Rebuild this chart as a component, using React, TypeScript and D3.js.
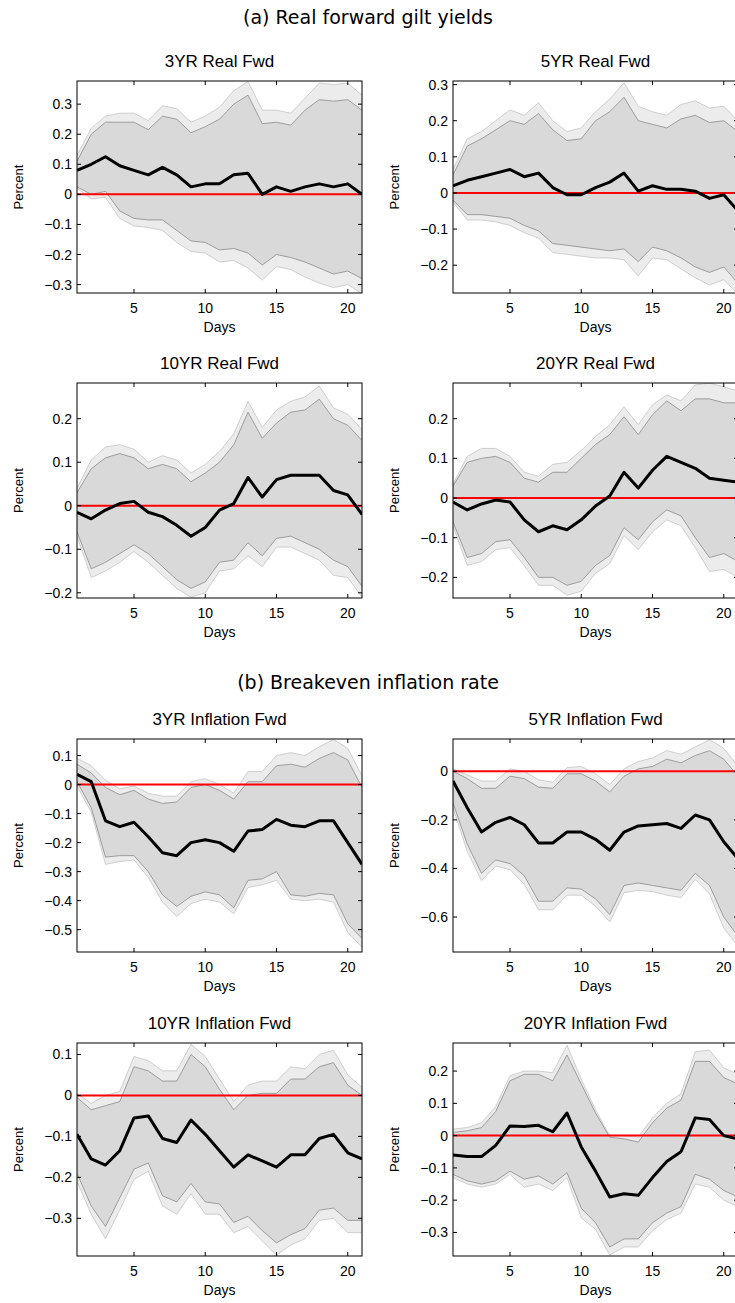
import React from 'react';
import * as d3 from 'd3';

const days = d3.range(1, 22);

// [mid, innerUp, innerLo, outerUp, outerLo]
const real3Mid = [.08,.10,.125,.095,.08,.065,.09,.065,.025,.035,.035,.065,.07,0,.025,.01,.025,.035,.025,.035,0];
const real3InUp = [.11,.2,.24,.24,.24,.215,.26,.25,.205,.225,.25,.3,.33,.235,.24,.23,.28,.315,.31,.315,.28];
const real3OutUp = [.13,.22,.26,.27,.27,.245,.295,.285,.24,.26,.29,.345,.375,.28,.28,.27,.32,.37,.365,.37,.33];
const real3InLo = [.025,0,.01,-.055,-.08,-.085,-.085,-.12,-.155,-.16,-.185,-.18,-.195,-.235,-.2,-.21,-.225,-.245,-.265,-.255,-.28];
const real3OutLo = [.02,-.015,-.01,-.08,-.105,-.11,-.12,-.16,-.19,-.195,-.225,-.22,-.245,-.285,-.24,-.25,-.275,-.295,-.31,-.3,-.33];

const real5Mid = [.02,.035,.045,.055,.065,.045,.055,.015,-.005,-.005,.015,.03,.055,.005,.02,.01,.01,.005,-.015,-.005,-.05];
const real5InUp = [.05,.13,.15,.175,.2,.19,.22,.175,.145,.15,.2,.225,.265,.2,.19,.18,.205,.215,.195,.2,.17];
const real5OutUp = [.065,.15,.17,.2,.23,.215,.25,.2,.17,.18,.225,.26,.305,.24,.225,.215,.245,.255,.235,.24,.2];
const real5InLo = [-.02,-.06,-.06,-.065,-.07,-.09,-.105,-.14,-.145,-.15,-.155,-.16,-.155,-.19,-.15,-.16,-.18,-.205,-.22,-.205,-.25];
const real5OutLo = [-.025,-.075,-.075,-.08,-.09,-.11,-.125,-.165,-.17,-.175,-.18,-.18,-.185,-.23,-.18,-.185,-.21,-.235,-.255,-.24,-.28];

const real10Mid = [-.015,-.03,-.01,.005,.01,-.015,-.025,-.045,-.07,-.05,-.01,.005,.065,.02,.06,.07,.07,.07,.035,.025,-.02];
const real10InUp = [.03,.085,.11,.12,.11,.085,.095,.085,.055,.075,.1,.14,.215,.155,.19,.215,.22,.245,.2,.185,.15];
const real10OutUp = [.04,.105,.135,.14,.13,.1,.115,.105,.075,.095,.125,.165,.24,.18,.22,.24,.25,.275,.225,.21,.175];
const real10InLo = [-.06,-.145,-.13,-.11,-.09,-.11,-.14,-.17,-.19,-.175,-.13,-.125,-.085,-.115,-.075,-.07,-.085,-.1,-.125,-.14,-.185];
const real10OutLo = [-.07,-.165,-.15,-.13,-.105,-.13,-.16,-.19,-.21,-.2,-.15,-.145,-.115,-.14,-.095,-.095,-.11,-.125,-.16,-.165,-.21];

const real20Mid = [-.01,-.03,-.015,-.005,-.01,-.055,-.085,-.07,-.08,-.055,-.02,.005,.065,.025,.07,.105,.09,.075,.05,.045,.04];
const real20InUp = [.03,.09,.1,.105,.09,.05,.04,.065,.065,.1,.135,.16,.205,.16,.21,.245,.22,.25,.25,.24,.24];
const real20OutUp = [.035,.105,.125,.125,.105,.065,.055,.085,.09,.12,.155,.185,.23,.185,.235,.26,.245,.285,.29,.28,.27];
const real20InLo = [-.06,-.15,-.14,-.11,-.105,-.15,-.2,-.2,-.22,-.21,-.17,-.145,-.075,-.105,-.06,-.03,-.045,-.1,-.15,-.14,-.16];
const real20OutLo = [-.07,-.17,-.16,-.13,-.125,-.17,-.22,-.22,-.245,-.235,-.19,-.165,-.095,-.13,-.085,-.055,-.07,-.125,-.185,-.18,-.2];

const inf3Mid = [.035,.01,-.125,-.145,-.13,-.18,-.235,-.245,-.2,-.19,-.2,-.23,-.16,-.155,-.12,-.14,-.145,-.125,-.125,-.2,-.275];
const inf3InUp = [.07,.04,-.01,-.035,-.02,-.05,-.065,-.06,-.01,0,-.02,-.05,.01,.01,.065,.07,.06,.09,.11,.085,-.01];
const inf3OutUp = [.09,.065,.015,-.015,-.005,-.03,-.04,-.04,.01,.02,0,-.03,.045,.045,.1,.11,.1,.13,.155,.125,.03];
const inf3InLo = [.01,-.08,-.25,-.245,-.245,-.3,-.38,-.42,-.385,-.37,-.38,-.425,-.33,-.325,-.3,-.38,-.385,-.375,-.38,-.48,-.53];
const inf3OutLo = [-.005,-.095,-.275,-.265,-.26,-.32,-.405,-.455,-.41,-.395,-.405,-.445,-.355,-.345,-.33,-.395,-.4,-.395,-.405,-.51,-.56];

const inf5Mid = [-.04,-.15,-.25,-.21,-.19,-.22,-.295,-.295,-.25,-.25,-.28,-.325,-.25,-.225,-.22,-.215,-.235,-.18,-.2,-.29,-.36];
const inf5InUp = [0,-.03,-.07,-.07,-.02,-.03,-.065,-.07,-.01,-.01,-.04,-.085,-.02,.01,.02,.05,.035,.065,.085,.05,-.02];
const inf5OutUp = [.01,-.015,-.04,-.04,.01,0,-.035,-.045,.015,.02,-.01,-.055,.01,.04,.055,.085,.07,.1,.13,.095,.02];
const inf5InLo = [-.13,-.3,-.42,-.365,-.38,-.43,-.535,-.535,-.48,-.485,-.525,-.59,-.47,-.46,-.47,-.48,-.49,-.42,-.47,-.6,-.68];
const inf5OutLo = [-.15,-.33,-.45,-.39,-.405,-.465,-.57,-.57,-.51,-.51,-.555,-.62,-.5,-.49,-.495,-.51,-.52,-.445,-.505,-.645,-.72];

const inf10Mid = [-.095,-.155,-.17,-.135,-.055,-.05,-.105,-.115,-.06,-.095,-.135,-.175,-.145,-.16,-.175,-.145,-.145,-.105,-.095,-.14,-.155];
const inf10InUp = [-.005,-.035,-.025,-.015,.07,.06,.035,.035,.1,.07,.015,-.035,0,.005,.005,.04,.04,.07,.08,.025,0];
const inf10OutUp = [.005,-.02,0,.01,.095,.085,.06,.06,.125,.095,.04,-.015,.025,.035,.035,.07,.065,.1,.11,.05,.02];
const inf10InLo = [-.19,-.27,-.32,-.25,-.18,-.165,-.245,-.26,-.215,-.26,-.265,-.31,-.295,-.33,-.36,-.34,-.325,-.28,-.275,-.305,-.305];
const inf10OutLo = [-.21,-.29,-.35,-.28,-.205,-.185,-.27,-.29,-.24,-.29,-.29,-.335,-.32,-.355,-.39,-.365,-.35,-.305,-.3,-.335,-.335];

const inf20Mid = [-.06,-.065,-.065,-.03,.03,.028,.032,.012,.07,-.035,-.11,-.19,-.18,-.185,-.13,-.08,-.05,.055,.05,0,-.01];
const inf20InUp = [.01,.015,.025,.075,.17,.19,.19,.17,.25,.16,.07,-.005,-.01,-.02,.04,.085,.11,.23,.23,.18,.16];
const inf20OutUp = [.02,.025,.04,.09,.185,.2,.2,.195,.28,.175,.08,0,0,-.005,.055,.1,.13,.26,.265,.21,.19];
const inf20InLo = [-.12,-.14,-.15,-.14,-.11,-.135,-.125,-.15,-.115,-.225,-.27,-.345,-.32,-.32,-.27,-.24,-.22,-.12,-.135,-.17,-.19];
const inf20OutLo = [-.13,-.15,-.16,-.15,-.12,-.16,-.15,-.17,-.13,-.255,-.29,-.37,-.345,-.345,-.295,-.26,-.24,-.15,-.16,-.2,-.22];

interface Panel {
  title: string; col: number; top: number; bottom: number;
  domain: [number, number]; ticks: number[];
  mid: number[]; inUp: number[]; inLo: number[]; outUp: number[]; outLo: number[];
}

const panels: Panel[] = [
  { title: '3YR Real Fwd', col: 0, top: 81, bottom: 293, domain: [-0.328, 0.377], ticks: [-.3,-.2,-.1,0,.1,.2,.3], mid: real3Mid, inUp: real3InUp, inLo: real3InLo, outUp: real3OutUp, outLo: real3OutLo },
  { title: '5YR Real Fwd', col: 1, top: 81, bottom: 293, domain: [-0.277, 0.31], ticks: [-.2,-.1,0,.1,.2,.3], mid: real5Mid, inUp: real5InUp, inLo: real5InLo, outUp: real5OutUp, outLo: real5OutLo },
  { title: '10YR Real Fwd', col: 0, top: 383, bottom: 598, domain: [-0.212, 0.282], ticks: [-.2,-.1,0,.1,.2], mid: real10Mid, inUp: real10InUp, inLo: real10InLo, outUp: real10OutUp, outLo: real10OutLo },
  { title: '20YR Real Fwd', col: 1, top: 383, bottom: 598, domain: [-0.252, 0.29], ticks: [-.2,-.1,0,.1,.2], mid: real20Mid, inUp: real20InUp, inLo: real20InLo, outUp: real20OutUp, outLo: real20OutLo },
  { title: '3YR Inflation Fwd', col: 0, top: 739, bottom: 952, domain: [-0.577, 0.157], ticks: [-.5,-.4,-.3,-.2,-.1,0,.1], mid: inf3Mid, inUp: inf3InUp, inLo: inf3InLo, outUp: inf3OutUp, outLo: inf3OutLo },
  { title: '5YR Inflation Fwd', col: 1, top: 739, bottom: 952, domain: [-0.744, 0.133], ticks: [-.6,-.4,-.2,0], mid: inf5Mid, inUp: inf5InUp, inLo: inf5InLo, outUp: inf5OutUp, outLo: inf5OutLo },
  { title: '10YR Inflation Fwd', col: 0, top: 1043, bottom: 1256, domain: [-0.392, 0.128], ticks: [-.3,-.2,-.1,0,.1], mid: inf10Mid, inUp: inf10InUp, inLo: inf10InLo, outUp: inf10OutUp, outLo: inf10OutLo },
  { title: '20YR Inflation Fwd', col: 1, top: 1043, bottom: 1256, domain: [-0.373, 0.287], ticks: [-.3,-.2,-.1,0,.1,.2], mid: inf20Mid, inUp: inf20InUp, inLo: inf20InLo, outUp: inf20OutUp, outLo: inf20OutLo },
];

const colLeft = [77, 453];
const plotW = 285;
const font = '"Liberation Sans", Arial, sans-serif';
const fmt = (v: number) => (Math.abs(v) < 1e-9 ? '0' : d3.format('.1f')(v).replace('-', '\u2212'));

const PanelView: React.FC<{ p: Panel }> = ({ p }) => {
  const left = colLeft[p.col];
  const x = d3.scaleLinear().domain([1, 21]).range([left, left + plotW]);
  const y = d3.scaleLinear().domain(p.domain).range([p.bottom, p.top]);
  const band = (up: number[], lo: number[]) =>
    d3.area<number>().x(d => x(d)).y0((d, i) => y(lo[i])).y1((d, i) => y(up[i]))(days) || '';
  const ln = (v: number[]) => d3.line<number>().x(d => x(d)).y((d, i) => y(v[i]))(days) || '';
  const clipId = `clip-${p.col}-${p.top}`;
  const cx = left + plotW / 2;
  const midY = (p.top + p.bottom) / 2;
  return (
    <g fontFamily={font}>
      <clipPath id={clipId}><rect x={left} y={p.top} width={plotW} height={p.bottom - p.top} /></clipPath>
      <g clipPath={`url(#${clipId})`}>
        <path d={band(p.outUp, p.outLo)} fill="#ececec" />
        <path d={band(p.inUp, p.inLo)} fill="#d9d9d9" />
        {[p.outUp, p.outLo].map((s, i) => <path key={'o' + i} d={ln(s)} fill="none" stroke="#c4c4c4" strokeWidth={0.8} />)}
        {[p.inUp, p.inLo].map((s, i) => <path key={'i' + i} d={ln(s)} fill="none" stroke="#8a8a8a" strokeWidth={0.8} />)}
        <line x1={left} x2={left + plotW} y1={y(0)} y2={y(0)} stroke="#ff0000" strokeWidth={2} />
        <path d={ln(p.mid)} fill="none" stroke="#000" strokeWidth={3} strokeLinejoin="round" />
      </g>
      <rect x={left} y={p.top} width={plotW} height={p.bottom - p.top} fill="none" stroke="#000" strokeWidth={1} />
      {[5, 10, 15, 20].map(t => (
        <g key={t}>
          <line x1={x(t)} x2={x(t)} y1={p.bottom} y2={p.bottom - 4} stroke="#000" />
          <line x1={x(t)} x2={x(t)} y1={p.top} y2={p.top + 4} stroke="#000" />
          <text x={x(t)} y={p.bottom + 20} textAnchor="middle" fontSize={14}>{t}</text>
        </g>
      ))}
      {p.ticks.map(t => (
        <g key={t}>
          <line x1={left} x2={left + 4} y1={y(t)} y2={y(t)} stroke="#000" />
          <line x1={left + plotW} x2={left + plotW - 4} y1={y(t)} y2={y(t)} stroke="#000" />
          <text x={left - 5} y={y(t) + 5} textAnchor="end" fontSize={14}>{fmt(t)}</text>
        </g>
      ))}
      <text x={cx} y={p.bottom + 39} textAnchor="middle" fontSize={14}>Days</text>
      <text transform={`translate(${left - 54},${midY}) rotate(-90)`} textAnchor="middle" fontSize={13}>Percent</text>
      <text x={cx} y={p.top - 14} textAnchor="middle" fontSize={17}>{p.title}</text>
    </g>
  );
};

export default function App() {
  return (
    <svg width={735} height={1303} style={{ position: 'fixed', left: 0, top: 0, background: '#fff' }}>
      <rect width={735} height={1303} fill="#fff" />
      <text x={368} y={24} textAnchor="middle" fontSize={19} fontFamily='"DejaVu Sans", sans-serif'>(a) Real forward gilt yields</text>
      <text x={368} y={689} textAnchor="middle" fontSize={19} fontFamily='"DejaVu Sans", sans-serif'>(b) Breakeven inflation rate</text>
      {panels.map(p => <PanelView key={p.title} p={p} />)}
    </svg>
  );
}
